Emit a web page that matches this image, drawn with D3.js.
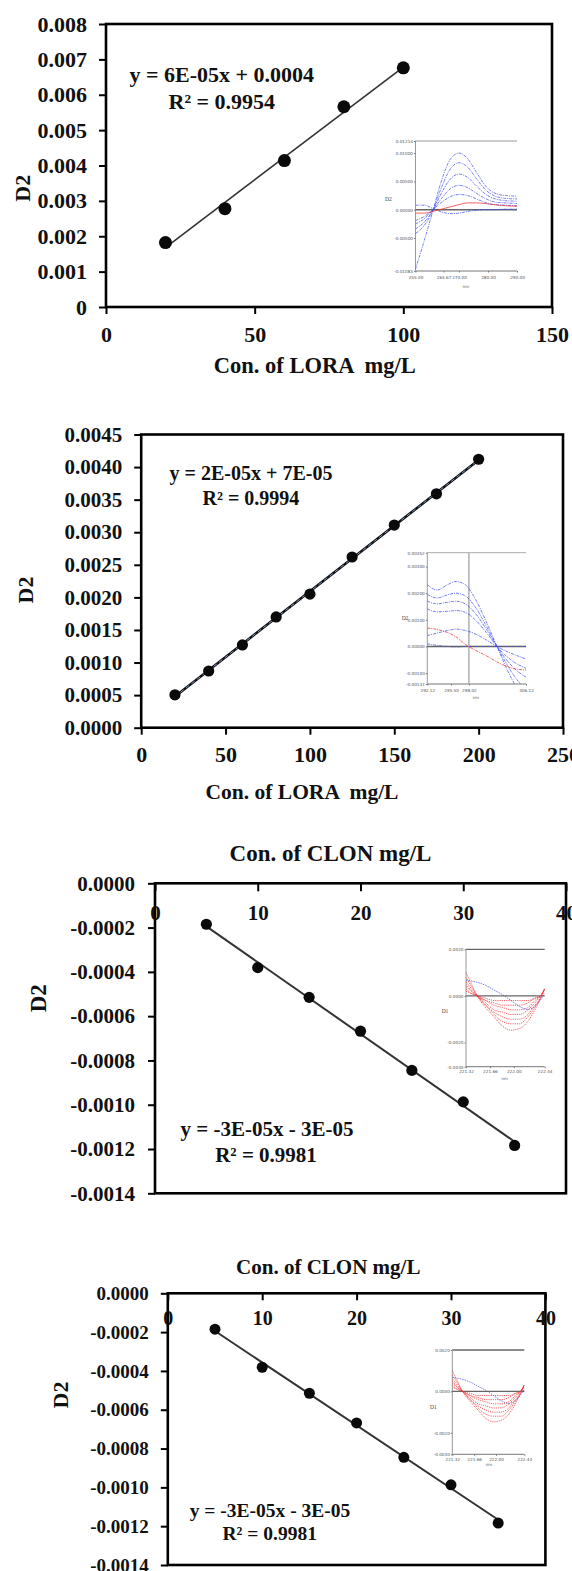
<!DOCTYPE html>
<html>
<head>
<meta charset="utf-8">
<script src="https://cdn.jsdelivr.net/npm/d3@7"></script>
<style>
  html, body { margin: 0; padding: 0; background: #fff; }
  svg { display: block; }
  text { font-family: "Liberation Serif", "Times New Roman", serif; font-weight: bold; fill: #111; white-space: pre; }
  .inset text { font-family: "DejaVu Sans", sans-serif; font-weight: normal; fill: #555; }
  .inset .ilabel { font-family: "Liberation Serif", serif; fill: #444; }
</style>
</head>
<body>
<svg id="chart" width="572" height="1571"></svg>
<script>
// ---------- calibration data ----------
const loraConcA = [20, 40, 60, 80, 100];
const loraD2A   = [0.00182, 0.00278, 0.00414, 0.00566, 0.00676];

const loraConcB = [20, 40, 60, 80, 100, 125, 150, 175, 200];
const loraD2B   = [0.000505, 0.00087, 0.00127, 0.0017, 0.00205, 0.00262, 0.00311, 0.00359, 0.00412];

const clonConc  = [5, 10, 15, 20, 25, 30, 35];
const clonD2    = [-0.000185, -0.000381, -0.000515, -0.000668, -0.000845, -0.000987, -0.001184];

// ---------- axis ticks ----------
const yTicksA = [0, 0.001, 0.002, 0.003, 0.004, 0.005, 0.006, 0.007, 0.008];
const xTicksA = [0, 50, 100, 150];
const yTicksB = [0, 0.0005, 0.001, 0.0015, 0.002, 0.0025, 0.003, 0.0035, 0.004, 0.0045];
const xTicksB = [0, 50, 100, 150, 200, 250];
const yTicksC = [0, -0.0002, -0.0004, -0.0006, -0.0008, -0.001, -0.0012, -0.0014];
const xTicksC = [0, 10, 20, 30, 40];

// ---------- text ----------
const eqA = ["y = 6E-05x + 0.0004", "R\u00B2 = 0.9954"];
const eqB = ["y = 2E-05x + 7E-05", "R\u00B2 = 0.9994"];
const eqC = ["y = -3E-05x - 3E-05", "R\u00B2 = 0.9981"];
const titleLora = "Con. of LORA  mg/L";
const titleClon = "Con. of CLON mg/L";
const titleY = "D2";

// ---------- inset spectra ----------
const specA_nm = [255, 258, 261, 264, 267, 270, 273, 276, 279, 282, 286, 290];
const specA_blue = [
  [-0.0105, -0.0055, -0.0002, 0.0052, 0.0089, 0.0100, 0.0090, 0.0066, 0.0043, 0.0030, 0.0025, 0.0024],
  [-0.0042, -0.0028, -0.0001, 0.0040, 0.0072, 0.0083, 0.0075, 0.0055, 0.0036, 0.0025, 0.0020, 0.0019],
  [-0.0034, -0.0022, -0.0001, 0.0030, 0.0054, 0.0063, 0.0057, 0.0042, 0.0028, 0.0020, 0.0016, 0.0015],
  [-0.0025, -0.0016, 0.0000, 0.0020, 0.0037, 0.0043, 0.0039, 0.0029, 0.0020, 0.0014, 0.0012, 0.0011],
  [-0.0019, -0.0012, 0.0000, 0.0013, 0.0023, 0.0027, 0.0025, 0.0019, 0.0013, 0.0009, 0.0008, 0.0007],
  [0.0008, 0.0008, 0.0002, -0.0004, -0.0007, -0.0006, -0.0003, -0.0001, 0.0000, 0.0000, 0.0001, 0.0001]
];
const specA_red = [[-0.0006, -0.0006, -0.0003, 0.0001, 0.0005, 0.0009, 0.0012, 0.0012, 0.0011, 0.0009, 0.0007, 0.0006]];
const specA_yTicks = [-0.01083, -0.005, 0, 0.005, 0.01, 0.01214];
const specA_xTicks = [255, 264.67, 270, 280, 290];

const specB_nm = [292.12, 293.5, 295, 296.2, 297.5, 299, 300.5, 302, 303.5, 305, 306.12];
const specB_blue = [
  [0.00232, 0.00212, 0.00232, 0.00244, 0.00232, 0.00175, 0.00092, 0.00000, -0.00090, -0.00165, -0.00210],
  [0.00195, 0.00182, 0.00194, 0.00200, 0.00190, 0.00145, 0.00076, 0.00000, -0.00072, -0.00130, -0.00160],
  [0.00170, 0.00160, 0.00166, 0.00170, 0.00160, 0.00122, 0.00064, 0.00000, -0.00055, -0.00095, -0.00115],
  [0.00141, 0.00130, 0.00132, 0.00135, 0.00128, 0.00098, 0.00052, 0.00000, -0.00040, -0.00068, -0.00082],
  [0.00041, 0.00050, 0.00060, 0.00065, 0.00060, 0.00046, 0.00024, 0.00000, -0.00020, -0.00036, -0.00047],
  [0.00010, 0.00004, 0.00000, -0.00002, 0.00000, 0.00000, 0.00000, 0.00000, 0.00000, 0.00000, 0.00000]
];
const specB_red = [[0.00069, 0.00064, 0.00052, 0.00036, 0.00008, -0.00015, -0.00035, -0.00058, -0.00076, -0.00086, -0.00088]];
const specB_yTicks = [-0.00141, -0.001, 0, 0.001, 0.002, 0.003, 0.00352];
const specB_xTicks = [292.12, 295.50, 298.02, 306.12];
const specB_marker = 298.02;

const specC_nm = [221.32, 221.40, 221.48, 221.60, 221.72, 221.84, 221.96, 222.08, 222.20, 222.30, 222.38, 222.44];
const specC_red = [
  [0.0010, 0.0005, 0.0000, -0.0005, -0.0009, -0.0013, -0.00147, -0.0014, -0.0011, -0.0006, -0.0001, 0.0003],
  [0.0008, 0.0004, 0.0000, -0.0004, -0.0008, -0.0011, -0.0012, -0.0012, -0.0009, -0.0005, -0.0001, 0.0003],
  [0.0006, 0.0003, 0.0000, -0.0004, -0.0007, -0.0009, -0.0010, -0.0010, -0.0008, -0.0004, -0.0001, 0.0003],
  [0.0005, 0.0002, 0.0000, -0.0003, -0.0006, -0.0007, -0.0008, -0.0008, -0.0006, -0.0003, 0.0000, 0.0003],
  [0.0004, 0.0002, 0.0000, -0.0002, -0.0004, -0.0005, -0.0006, -0.0006, -0.0005, -0.0002, 0.0000, 0.0003],
  [0.0003, 0.0001, 0.0000, -0.0002, -0.0003, -0.0004, -0.0004, -0.0004, -0.0003, -0.0001, 0.0000, 0.0003],
  [0.0002, 0.0001, 0.0000, -0.0001, -0.0002, -0.0002, -0.0002, -0.0002, -0.0002, -0.0001, 0.0000, 0.0003]
];
const specC_blue = [[0.00067, 0.00064, 0.00058, 0.00045, 0.00025, 0.00005, -0.00020, -0.00045, -0.00058, -0.00045, -0.00018, 0.0001]];
const specC_yTicks = [-0.00304, -0.002, 0, 0.002];
const specC_xTicks = [221.32, 221.66, 222.00, 222.44];

// ---------- helpers ----------
const svg = d3.select("#chart");
svg.append("rect").attr("width", 572).attr("height", 1571).attr("fill", "#fff");

// fixed-decimal labels with a plain hyphen for negatives
const fixed = n => d => (+d).toFixed(n);

function leastSquares(xs, ys) {
  const mx = d3.mean(xs), my = d3.mean(ys);
  let sxy = 0, sxx = 0;
  xs.forEach((x, i) => { sxy += (x - mx) * (ys[i] - my); sxx += (x - mx) * (x - mx); });
  const m = sxy / sxx;
  return { m, b: my - m * mx };
}

function drawPanel(p) {
  const g = svg.append("g");
  const x = d3.scaleLinear().domain(p.xDomain).range([p.left, p.right]);
  const y = d3.scaleLinear().domain(p.yDomain).range([p.bottom, p.top]);

  // plot frame
  g.append("rect")
    .attr("x", p.left).attr("y", p.top)
    .attr("width", p.right - p.left).attr("height", p.bottom - p.top)
    .attr("fill", "none").attr("stroke", "#000").attr("stroke-width", 2.6);

  // value axis
  const ay = g.append("g").attr("transform", `translate(${p.left},0)`)
    .call(d3.axisLeft(y).tickValues(p.yTicks).tickFormat(p.yFmt)
      .tickSizeInner(7).tickSizeOuter(0).tickPadding(p.padY));
  ay.select(".domain").remove();
  ay.attr("font-size", null).attr("font-family", null);
  ay.selectAll(".tick line").attr("stroke", "#000").attr("stroke-width", 2);
  ay.selectAll(".tick text").style("font-size", p.fs + "px");

  // concentration axis (bottom, or along the top edge pointing inward)
  const atY = p.xAxisAt === "top" ? p.top : p.bottom;
  const ax = g.append("g").attr("transform", `translate(0,${atY})`)
    .call(d3.axisBottom(x).tickValues(p.xTicks).tickFormat(d3.format("d"))
      .tickSizeInner(p.tickX).tickSizeOuter(0).tickPadding(p.padX));
  ax.select(".domain").remove();
  ax.attr("font-size", null).attr("font-family", null);
  ax.selectAll(".tick line").attr("stroke", "#000").attr("stroke-width", 2);
  ax.selectAll(".tick text").style("font-size", p.fsX + "px");

  // linear fit
  const fit = leastSquares(p.xs, p.ys);
  const x0 = d3.min(p.xs), x1 = d3.max(p.xs);
  g.append("line")
    .attr("x1", x(x0)).attr("y1", y(fit.m * x0 + fit.b))
    .attr("x2", x(x1)).attr("y2", y(fit.m * x1 + fit.b))
    .attr("stroke", p.lineColor).attr("stroke-width", p.lineW);
  if (p.lineDash) {
    g.append("line")
      .attr("x1", x(x0)).attr("y1", y(fit.m * x0 + fit.b))
      .attr("x2", x(x1)).attr("y2", y(fit.m * x1 + fit.b))
      .attr("stroke", "#7393bd").attr("stroke-width", 1).attr("stroke-dasharray", "4,3");
  }

  // calibration points
  g.selectAll("circle.pt").data(p.xs.map((v, i) => [v, p.ys[i]]))
    .join("circle").attr("class", "pt")
    .attr("cx", d => x(d[0])).attr("cy", d => y(d[1]))
    .attr("r", p.r).attr("fill", "#0a0a0a");

  // regression equation
  g.append("text").attr("x", p.eqPos[0]).attr("y", p.eqPos[1]).attr("dy", "0.35em")
    .style("font-size", p.eqFs + "px").text(p.eq[0]);
  g.append("text").attr("x", p.eqPos[2]).attr("y", p.eqPos[3]).attr("dy", "0.35em")
    .style("font-size", p.eqFs + "px").text(p.eq[1]);

  // axis titles
  g.append("text").attr("x", p.xTitlePos[0]).attr("y", p.xTitlePos[1]).attr("dy", "0.35em")
    .attr("text-anchor", "middle").style("font-size", p.titleFs + "px").text(p.xTitle);
  g.append("text")
    .attr("transform", `translate(${p.yTitlePos[0]},${p.yTitlePos[1]}) rotate(-90)`)
    .attr("dy", "0.35em").attr("text-anchor", "middle")
    .style("font-size", p.yTitleFs + "px").text(titleY);
}

let clipCount = 0;
function drawInset(s) {
  const g = svg.append("g").attr("class", "inset");
  const x = d3.scaleLinear().domain(s.xDomain).range([s.left, s.right]);
  const y = d3.scaleLinear().domain(s.yDomain).range([s.bottom, s.top]);
  const cid = "clip" + (clipCount++);
  g.append("clipPath").attr("id", cid).append("rect")
    .attr("x", s.left).attr("y", s.top).attr("width", s.right - s.left).attr("height", s.bottom - s.top);

  // frame lines
  g.append("line").attr("x1", s.left).attr("x2", s.right).attr("y1", s.top).attr("y2", s.top)
    .attr("stroke", s.topColor).attr("stroke-width", s.topW);
  g.append("line").attr("x1", s.left).attr("x2", s.right).attr("y1", s.bottom).attr("y2", s.bottom)
    .attr("stroke", "#777").attr("stroke-width", 1);
  g.append("line").attr("x1", s.left).attr("x2", s.left).attr("y1", s.top).attr("y2", s.bottom)
    .attr("stroke", "#999").attr("stroke-width", 1);
  g.append("line").attr("x1", s.left).attr("x2", s.right).attr("y1", y(0)).attr("y2", y(0))
    .attr("stroke", "#666").attr("stroke-width", 1.4);
  if (s.marker !== undefined) {
    g.append("line").attr("x1", x(s.marker)).attr("x2", x(s.marker)).attr("y1", s.top).attr("y2", s.bottom)
      .attr("stroke", "#aaa").attr("stroke-width", 1.4);
  }

  // tick labels
  const ay = g.append("g").attr("transform", `translate(${s.left},0)`)
    .call(d3.axisLeft(y).tickValues(s.yTicks).tickFormat(fixed(s.yDec)).tickSize(1.5).tickPadding(1));
  ay.select(".domain").remove();
  ay.attr("font-size", null).attr("font-family", null);
  ay.selectAll(".tick line").attr("stroke", "#777");
  ay.selectAll(".tick text").style("font-size", "4.2px");
  const ax = g.append("g").attr("transform", `translate(0,${s.bottom})`)
    .call(d3.axisBottom(x).tickValues(s.xTicks).tickFormat(fixed(2)).tickSize(1.5).tickPadding(s.xPad));
  ax.select(".domain").remove();
  ax.attr("font-size", null).attr("font-family", null);
  ax.selectAll(".tick line").attr("stroke", "#777");
  ax.selectAll(".tick text").style("font-size", "4.2px");

  g.append("text").attr("class", "ilabel").attr("x", s.labelPos[0]).attr("y", s.labelPos[1])
    .attr("dy", "0.35em").attr("text-anchor", "middle").style("font-size", "5.5px").text(s.label);
  g.append("text").attr("x", s.nmPos[0]).attr("y", s.nmPos[1])
    .attr("dy", "0.35em").attr("text-anchor", "middle").style("font-size", "4px").text("nm");

  // spectra
  const path = d3.line().x((d, i) => x(s.nm[i])).y(d => y(d)).curve(d3.curveMonotoneX);
  const curves = g.append("g").attr("clip-path", `url(#${cid})`);
  s.blue.forEach(series => {
    curves.append("path").attr("d", path(series)).attr("fill", "none")
      .attr("stroke", "#3a4cf0").attr("stroke-width", 0.9).attr("stroke-opacity", 0.8)
      .attr("stroke-dasharray", s.blueDash);
  });
  s.red.forEach(series => {
    curves.append("path").attr("d", path(series)).attr("fill", "none")
      .attr("stroke", "#f03030").attr("stroke-width", 0.9).attr("stroke-opacity", 0.85)
      .attr("stroke-dasharray", s.redDash);
  });
}

// ---------- panel 1: LORA, 20-100 mg/L ----------
drawPanel({
  xs: loraConcA, ys: loraD2A, xDomain: [0, 150], yDomain: [0, 0.008],
  xTicks: xTicksA, yTicks: yTicksA, yFmt: d => d === 0 ? "0" : d.toFixed(3),
  left: 106, right: 552, top: 24, bottom: 307, xAxisAt: "bottom",
  fs: 22, fsX: 22, padY: 12, tickX: 7, padX: 12,
  r: 6.5, lineColor: "#333", lineW: 1.6,
  eq: eqA, eqPos: [129.5, 74, 168.5, 101.7], eqFs: 22,
  xTitle: titleLora, xTitlePos: [314.8, 365], titleFs: 22.5,
  yTitlePos: [21.9, 188.3], yTitleFs: 22
});
drawInset({
  nm: specA_nm, blue: specA_blue, red: specA_red,
  xDomain: [255, 290], yDomain: [-0.01083, 0.01214],
  xTicks: specA_xTicks, yTicks: specA_yTicks, yDec: 5,
  left: 415.5, right: 517, top: 141, bottom: 271, xPad: 4,
  topColor: "#999", topW: 1, blueDash: "3,1,1,1", redDash: null,
  label: "D2", labelPos: [388.3, 199], nmPos: [466, 286.5]
});

// ---------- panel 2: LORA, 20-200 mg/L ----------
drawPanel({
  xs: loraConcB, ys: loraD2B, xDomain: [0, 250], yDomain: [0, 0.0045],
  xTicks: xTicksB, yTicks: yTicksB, yFmt: fixed(4),
  left: 141.2, right: 563, top: 434.5, bottom: 727.7, xAxisAt: "bottom",
  fs: 21, fsX: 22, padY: 12, tickX: 7, padX: 12,
  r: 5.6, lineColor: "#111", lineW: 2.6, lineDash: true,
  eq: eqB, eqPos: [169.6, 473.3, 202.5, 498.3], eqFs: 20,
  xTitle: titleLora, xTitlePos: [302, 791], titleFs: 21.5,
  yTitlePos: [25.5, 590], yTitleFs: 22
});
drawInset({
  nm: specB_nm, blue: specB_blue, red: specB_red, marker: specB_marker,
  xDomain: [292.12, 306.12], yDomain: [-0.00141, 0.00352],
  xTicks: specB_xTicks, yTicks: specB_yTicks, yDec: 5,
  left: 427.3, right: 526, top: 552.7, bottom: 684, xPad: 4,
  topColor: "#aaa", topW: 1, blueDash: "3,1,1,1", redDash: "3,1,1,1",
  label: "D2", labelPos: [405, 618.3], nmPos: [476, 698]
});

// ---------- panel 3: CLON ----------
drawPanel({
  xs: clonConc, ys: clonD2, xDomain: [0, 40], yDomain: [-0.0014, 0],
  xTicks: xTicksC, yTicks: yTicksC, yFmt: fixed(4),
  left: 155, right: 566, top: 883.3, bottom: 1193.3, xAxisAt: "top",
  fs: 21, fsX: 21, padY: 13, tickX: 8, padX: 14,
  r: 5.6, lineColor: "#333", lineW: 2,
  eq: eqC, eqPos: [180.6, 1128.3, 215.2, 1155], eqFs: 21,
  xTitle: titleClon, xTitlePos: [330.5, 853.3], titleFs: 23,
  yTitlePos: [38.3, 998.3], yTitleFs: 23
});
drawInset({
  nm: specC_nm, blue: specC_blue, red: specC_red,
  xDomain: [221.32, 222.44], yDomain: [-0.00304, 0.002],
  xTicks: specC_xTicks, yTicks: specC_yTicks, yDec: 4,
  left: 466, right: 544.7, top: 949.3, bottom: 1066.7, xPad: 2,
  topColor: "#666", topW: 1.3, blueDash: "1.5,1", redDash: "1.2,1",
  label: "D1", labelPos: [445, 1010.7], nmPos: [504.6, 1078.3]
});

// ---------- panel 4: CLON ----------
drawPanel({
  xs: clonConc, ys: clonD2, xDomain: [0, 40], yDomain: [-0.0014, 0],
  xTicks: xTicksC, yTicks: yTicksC, yFmt: fixed(4),
  left: 167.8, right: 545.4, top: 1293.3, bottom: 1565, xAxisAt: "top",
  fs: 19, fsX: 20, padY: 12, tickX: 7, padX: 11,
  r: 5.5, lineColor: "#333", lineW: 2,
  eq: eqC, eqPos: [189.7, 1510, 222.5, 1533.3], eqFs: 19.5,
  xTitle: titleClon, xTitlePos: [328.3, 1266.7], titleFs: 21,
  yTitlePos: [60.2, 1395], yTitleFs: 22
});
drawInset({
  nm: specC_nm, blue: specC_blue, red: specC_red,
  xDomain: [221.32, 222.44], yDomain: [-0.00304, 0.002],
  xTicks: specC_xTicks, yTicks: specC_yTicks, yDec: 4,
  left: 452.3, right: 524.3, top: 1350, bottom: 1454.3, xPad: 2,
  topColor: "#666", topW: 1.3, blueDash: "1.5,1", redDash: "1.2,1",
  label: "D1", labelPos: [433.3, 1406.7], nmPos: [489, 1465]
});
</script>
</body>
</html>
